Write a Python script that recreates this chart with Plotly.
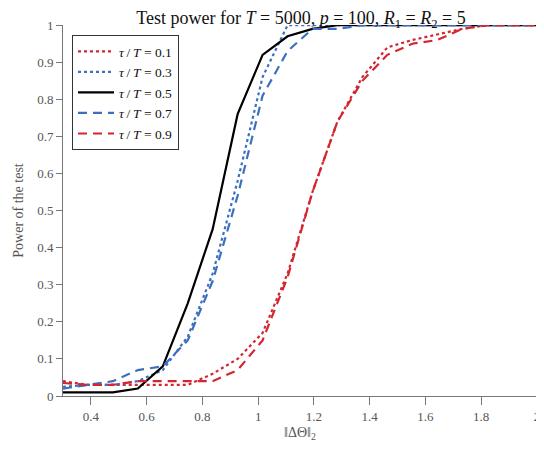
import numpy as np
import plotly.graph_objects as go

x_vals = [0.3, 0.3895, 0.4789, 0.5684, 0.6579, 0.7474, 0.8368, 0.9263, 1.0158, 1.1053,
          1.1947, 1.2842, 1.3737, 1.4632, 1.5526, 1.6421, 1.7316, 1.8211, 1.9105, 2.0]

p_01 = [0.04, 0.03, 0.03, 0.03, 0.03, 0.03, 0.06, 0.10, 0.17, 0.33,
        0.55, 0.74, 0.86, 0.94, 0.96, 0.975, 0.99, 1.0, 1.0, 1.0]
p_03 = [0.025, 0.03, 0.03, 0.04, 0.07, 0.16, 0.33, 0.58, 0.86, 1.0,
        1.0, 1.0, 1.0, 1.0, 1.0, 1.0, 1.0, 1.0, 1.0, 1.0]
p_05 = [0.01, 0.01, 0.01, 0.02, 0.08, 0.25, 0.45, 0.76, 0.92, 0.97,
        0.99, 1.0, 1.0, 1.0, 1.0, 1.0, 1.0, 1.0, 1.0, 1.0]
p_07 = [0.02, 0.03, 0.04, 0.07, 0.08, 0.15, 0.31, 0.54, 0.81, 0.93,
        0.99, 0.99, 1.0, 1.0, 1.0, 1.0, 1.0, 1.0, 1.0, 1.0]
p_09 = [0.035, 0.03, 0.03, 0.04, 0.04, 0.04, 0.04, 0.07, 0.15, 0.32,
        0.55, 0.74, 0.85, 0.92, 0.95, 0.96, 0.99, 1.0, 1.0, 1.0]

labels = ["0.1", "0.3", "0.5", "0.7", "0.9"]
x_ticks = [0.4, 0.6, 0.8, 1.0, 1.2, 1.4, 1.6, 1.8, 2.0]
x_tick_text = ["0.4", "0.6", "0.8", "1", "1.2", "1.4", "1.6", "1.8", "2"]
y_ticks = [0, 0.1, 0.2, 0.3, 0.4, 0.5, 0.6, 0.7, 0.8, 0.9, 1.0]
y_tick_text = ["0", "0.1", "0.2", "0.3", "0.4", "0.5", "0.6", "0.7", "0.8", "0.9", "1"]

RED = "#d22630"
BLUE = "#3d6fc0"
styles = [
    (p_01, RED, "dot"),
    (p_03, BLUE, "dot"),
    (p_05, "black", "solid"),
    (p_07, BLUE, "9px,6px"),
    (p_09, RED, "9px,6px"),
]

FONT = "Liberation Serif"
fig = go.Figure()
for (ys, color, dash), lab in zip(styles, labels):
    fig.add_trace(go.Scatter(
        x=x_vals, y=ys, mode="lines",
        name=f"<i>τ</i>\u2009/\u2009<i>T</i> = {lab}",
        line=dict(color=color, dash=dash, width=2.2),
    ))

# The page body has an 8px default margin, so the figure is sized to fit the window.
fig.update_layout(
    width=536, height=434,
    margin=dict(l=55, r=7, t=17, b=46, autoexpand=False),
    paper_bgcolor="white", plot_bgcolor="white",
    font=dict(family=FONT, size=13, color="#444"),
    title=dict(
        text="Test power for <i>T</i> = 5000, <i>p</i> = 100, <i>R</i><sub>1</sub> = <i>R</i><sub>2</sub> = 5",
        x=0.5466, xanchor="center", y=0.992, yanchor="top",
        font=dict(family=FONT, size=18, color="#111"),
    ),
    legend=dict(
        x=0.019, y=0.973, xanchor="left", yanchor="top",
        bordercolor="#333", borderwidth=1, bgcolor="white",
        font=dict(family=FONT, size=13.5, color="#111"),
        tracegroupgap=0, itemwidth=36,
    ),
    showlegend=True,
)
fig.update_xaxes(
    range=[0.3, 2.0], tickvals=x_ticks, ticktext=x_tick_text, automargin=False,
    ticklabeloverflow="allow",
    showgrid=False, zeroline=False, showline=True, linecolor="#777", linewidth=1,
    ticks="outside", ticklen=8, tickcolor="#777",
    tickfont=dict(family=FONT, size=13, color="#555"),
    title=dict(text="‖ΔΘ‖<sub>2</sub>", font=dict(family=FONT, size=14, color="#555"), standoff=4),
)
fig.update_yaxes(
    range=[0, 1.0005], tickvals=y_ticks, ticktext=y_tick_text, automargin=False,
    ticklabeloverflow="allow",
    showgrid=False, zeroline=False, showline=True, linecolor="#777", linewidth=1,
    ticks="outside", ticklen=6, tickcolor="#777",
    tickfont=dict(family=FONT, size=13, color="#555"),
    title=dict(text="Power of the test", font=dict(family=FONT, size=14, color="#555"), standoff=10),
)

fig.write_html("out.html")
